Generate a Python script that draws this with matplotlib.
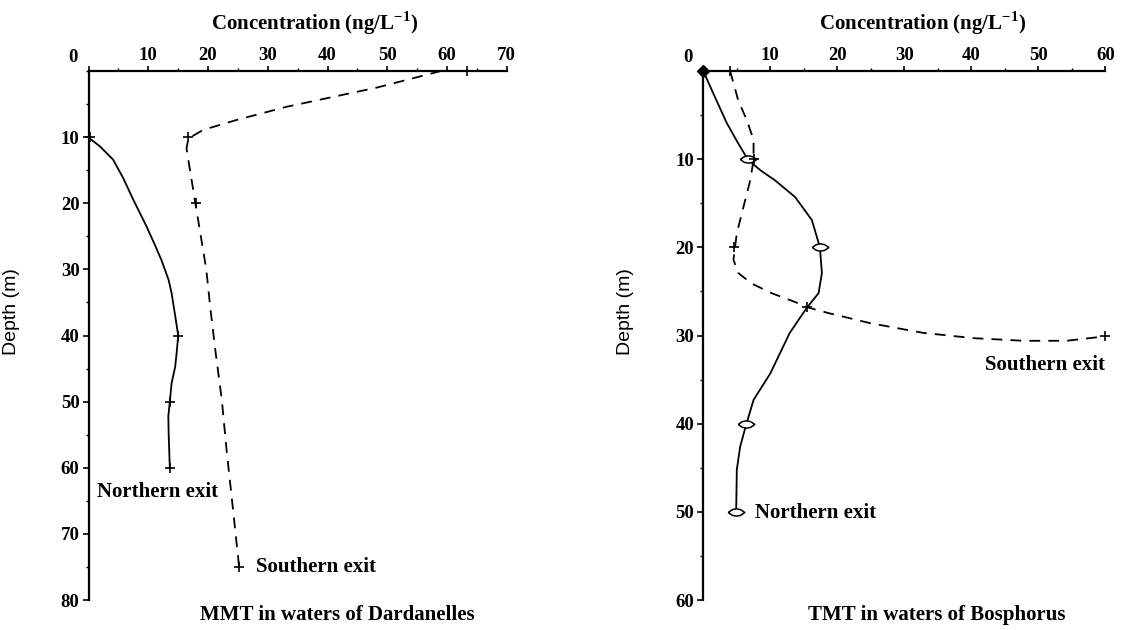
import matplotlib
matplotlib.use("Agg")
import matplotlib.pyplot as plt
from matplotlib.ticker import MultipleLocator

plt.rcParams['font.family'] = ['Liberation Serif', 'DejaVu Serif']
plt.rcParams['font.weight'] = 'bold'
plt.rcParams['mathtext.fontset'] = 'custom'
plt.rcParams['mathtext.rm'] = 'Liberation Serif:bold'

# ---- MMT, Dardanelles ----
dard_north_conc = [0.2, 1.9, 4.1, 5.8, 7.5, 9.7, 11.1, 12.2, 13.4, 13.9, 14.6, 15.0,
                   14.8, 14.5, 13.9, 13.6, 13.35, 13.4, 13.5, 13.6]
dard_north_depth = [10.2, 11.4, 13.4, 16.2, 19.5, 23.5, 26.3, 28.6, 31.6, 33.6, 37.6, 40.0,
                    42.1, 44.7, 47.2, 50.0, 52.2, 54.7, 57.5, 60.0]
dard_north_pts_conc = [0.2, 15.0, 13.6, 13.6]
dard_north_pts_depth = [10, 40, 50, 60]

dard_south_conc = [59.0, 48.3, 33.2, 24.8, 19.2, 16.7, 16.4, 16.8, 17.9, 19.7, 20.4,
                   21.2, 22.3, 23.1, 24.0, 24.9, 25.2]
dard_south_depth = [0.0, 2.5, 5.4, 7.4, 8.9, 10.2, 11.7, 14.0, 20.1, 30.0, 36.0,
                    42.1, 49.7, 57.3, 64.8, 72.4, 75.0]
dard_south_pts_conc = [63.3, 16.7, 17.9, 25.2]
dard_south_pts_depth = [0, 10, 20, 75]

# ---- TMT, Bosphorus ----
bos_north_conc = [0.0, 1.7, 3.5, 5.2, 6.7, 8.6, 10.7, 13.7, 16.2, 17.4, 17.7, 17.2,
                  15.5, 12.9, 10.0, 7.5, 6.4, 5.5, 5.0, 4.9]
bos_north_depth = [0.0, 2.9, 5.9, 8.2, 10.1, 11.3, 12.4, 14.3, 16.9, 20.0, 22.9, 25.2,
                   26.8, 29.7, 34.3, 37.3, 40.1, 42.6, 45.2, 50.1]
bos_north_pts_conc = [6.7, 17.4, 6.4, 4.9]
bos_north_pts_depth = [10, 20, 40, 50]

bos_south_conc = [4.0, 5.2, 6.5, 7.5, 7.5, 7.0, 6.0, 5.0, 4.5, 5.2, 7.2, 10.2, 13.7,
                  15.5, 18.9, 24.9, 32.8, 40.3, 47.8, 54.2, 59.9]
bos_south_depth = [0.0, 3.3, 5.6, 7.8, 10.1, 12.4, 15.4, 18.4, 21.4, 22.9, 24.1, 25.2, 26.2,
                   26.8, 27.5, 28.6, 29.7, 30.3, 30.6, 30.6, 30.1]
bos_south_pts_conc = [4.0, 7.5, 4.6, 15.5, 59.9]
bos_south_pts_depth = [0, 10, 20, 26.8, 30.1]

FS = 15
TICK_FS = 13.5
lens = [(-1.6, 0), (-0.8, 0.55), (0, 0.7), (0.8, 0.55), (1.6, 0), (0.8, -0.55),
        (0, -0.7), (-0.8, -0.55), (-1.6, 0)]

fig = plt.figure(figsize=(11.3, 6.3), dpi=100)
ax1 = fig.add_axes([0.0784, 0.0476, 0.370, 0.8397])
ax2 = fig.add_axes([0.6224, 0.0476, 0.3558, 0.8397])


def style_axis(ax, xmax, ymax):
    ax.set_xlim(0, xmax)
    ax.set_ylim(ymax, 0)
    for s in ['right', 'bottom']:
        ax.spines[s].set_visible(False)
    for s in ['left', 'top']:
        ax.spines[s].set_linewidth(1.6)
    ax.xaxis.tick_top()
    xt = list(range(0, xmax + 1, 10))
    ax.set_xticks(xt)
    ax.set_xticklabels([''] + [str(v) for v in xt[1:]])
    ax.xaxis.set_minor_locator(MultipleLocator(5))
    ax.set_yticks(range(10, ymax + 1, 10))
    ax.yaxis.set_minor_locator(MultipleLocator(5))
    ax.tick_params(axis='x', which='major', direction='out', length=3.5, width=1.2,
                   pad=1.5, labelsize=TICK_FS)
    ax.tick_params(axis='y', which='major', direction='out', length=4, width=1.2,
                   pad=2.5, labelsize=TICK_FS)
    ax.tick_params(which='minor', direction='out', length=2.5, width=1.0)
    ax.annotate('0', xy=(0, 0), xycoords='data', xytext=(-11, 9.5),
                textcoords='offset points', ha='center', va='center',
                fontsize=TICK_FS, annotation_clip=False)
    ax.set_ylabel('Depth (m)', fontsize=14, fontweight='normal',
                  family='Liberation Sans')
    ax.patch.set_visible(False)


style_axis(ax1, 70, 80)
style_axis(ax2, 60, 60)
ax1.yaxis.set_label_coords(-0.164, 0.545)
ax2.yaxis.set_label_coords(-0.173, 0.545)

lw = 1.3
dash = (0, (6, 4.5))

# Dardanelles
ax1.plot(dard_north_conc, dard_north_depth, color='black', lw=lw, clip_on=False)
ax1.plot(dard_north_pts_conc, dard_north_pts_depth, ls='none', marker='+', ms=7,
         mew=1.2, color='black', clip_on=False)
ax1.plot(dard_south_conc, dard_south_depth, color='black', lw=lw, ls=dash, clip_on=False)
ax1.plot(dard_south_pts_conc, dard_south_pts_depth, ls='none', marker='+', ms=7,
         mew=1.2, color='black', clip_on=False)
ax1.text(1.4, 63.6, 'Northern exit', fontsize=FS, ha='left', va='center')
ax1.text(28.0, 75.0, 'Southern exit', fontsize=FS, ha='left', va='center')
ax1.text(41.6, 82.2, 'MMT in waters of Dardanelles', fontsize=FS, ha='center',
         va='center', clip_on=False)
ax1.text(37.8, -7.25, 'Concentration (ng/L$^{\\mathregular{-1}}$)', fontsize=FS,
         ha='center', va='center', clip_on=False)

# Bosphorus
ax2.plot(bos_north_conc, bos_north_depth, color='black', lw=lw, clip_on=False)
ax2.plot(bos_north_pts_conc, bos_north_pts_depth, ls='none', marker=lens, ms=12,
         mew=1.1, mfc='white', mec='black', clip_on=False)
ax2.plot([bos_north_conc[0]], [bos_north_depth[0]], ls='none', marker='D', ms=6,
         color='black', clip_on=False)
ax2.plot(bos_south_conc, bos_south_depth, color='black', lw=lw, ls=dash, clip_on=False)
ax2.plot(bos_south_pts_conc, bos_south_pts_depth, ls='none', marker='+', ms=7,
         mew=1.2, color='black', clip_on=False)
ax2.text(7.7, 50.1, 'Northern exit', fontsize=FS, ha='left', va='center')
ax2.text(60.0, 33.3, 'Southern exit', fontsize=FS, ha='right', va='center')
ax2.text(34.9, 61.7, 'TMT in waters of Bosphorus', fontsize=FS, ha='center',
         va='center', clip_on=False)
ax2.text(32.7, -5.44, 'Concentration (ng/L$^{\\mathregular{-1}}$)', fontsize=FS,
         ha='center', va='center', clip_on=False)

fig.savefig('out.png', dpi=100)
